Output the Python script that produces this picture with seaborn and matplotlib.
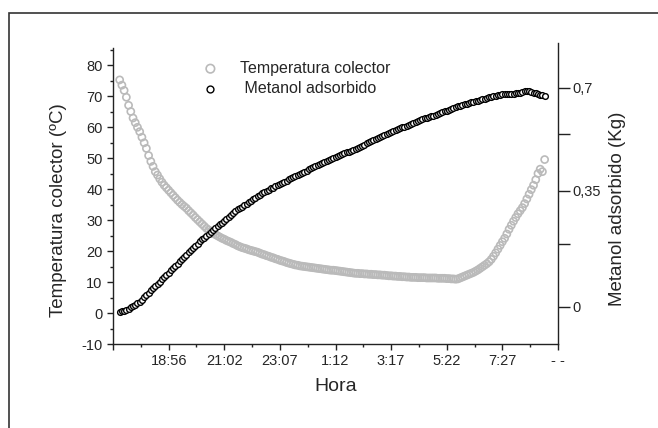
import matplotlib
matplotlib.use("Agg")

import numpy as np
import pandas as pd
import matplotlib.pyplot as plt
import seaborn as sns
from matplotlib.patches import Rectangle
from matplotlib.ticker import MultipleLocator

# ===============================
# Datos
# ===============================
# minutos desde 16:51, un registro cada 5 min
inicio_min = 15
paso_min = 5

temperatura = [
    75.2, 73.5, 71.8, 69.6, 67.0, 65.0, 62.9, 61.4, 59.9, 58.5,
    56.7, 54.9, 53.1, 50.8, 48.9, 47.3, 45.6, 44.5, 43.3, 42.2,
    41.2, 40.4, 39.6, 38.8, 38.0, 37.2, 36.4, 35.7, 35.0, 34.4,
    33.8, 33.0, 32.3, 31.6, 30.8, 30.1, 29.4, 28.7, 28.0, 27.3,
    26.8, 26.3, 25.8, 25.3, 24.9, 24.5, 24.1, 23.8, 23.4, 23.1,
    22.8, 22.4, 22.1, 21.7, 21.4, 21.1, 20.9, 20.7, 20.4, 20.2,
    20.0, 19.8, 19.6, 19.3, 19.0, 18.8, 18.5, 18.3, 18.0, 17.8,
    17.5, 17.3, 17.0, 16.8, 16.6, 16.3, 16.1, 15.9, 15.7, 15.5,
    15.4, 15.2, 15.1, 15.0, 14.9, 14.8, 14.7, 14.6, 14.5, 14.4,
    14.3, 14.2, 14.1, 14.0, 13.9, 13.8, 13.8, 13.7, 13.6, 13.5,
    13.4, 13.3, 13.2, 13.1, 13.0, 12.9, 12.8, 12.8, 12.7, 12.7,
    12.6, 12.6, 12.5, 12.5, 12.4, 12.4, 12.3, 12.3, 12.2, 12.2,
    12.1, 12.0, 12.0, 11.9, 11.9, 11.8, 11.8, 11.7, 11.7, 11.6,
    11.6, 11.5, 11.5, 11.5, 11.4, 11.4, 11.4, 11.4, 11.3, 11.3,
    11.3, 11.3, 11.3, 11.2, 11.2, 11.2, 11.2, 11.1, 11.1, 11.0,
    11.0, 10.9, 11.0, 11.3, 11.6, 11.9, 12.2, 12.5, 12.8, 13.1,
    13.5, 13.9, 14.4, 14.9, 15.4, 15.9, 16.5, 17.3, 18.3, 19.4,
    20.6, 21.8, 23.0, 24.1, 25.5, 27.0, 28.3, 29.6, 30.8, 32.0,
    33.0, 34.0, 35.3, 36.8, 38.3, 39.8, 41.2, 43.0, 45.0, 46.4,
    45.6, 49.5,
]

metanol = [
    -0.017, -0.015, -0.013, -0.010, -0.006, -0.002, 0.002, 0.006, 0.011, 0.016,
    0.023, 0.030, 0.037, 0.045, 0.052, 0.059, 0.066, 0.073, 0.080, 0.087,
    0.094, 0.102, 0.109, 0.116, 0.123, 0.130, 0.137, 0.145, 0.152, 0.159,
    0.166, 0.174, 0.181, 0.188, 0.195, 0.202, 0.209, 0.215, 0.221, 0.227,
    0.233, 0.239, 0.245, 0.251, 0.257, 0.263, 0.269, 0.275, 0.281, 0.287,
    0.293, 0.299, 0.305, 0.311, 0.316, 0.320, 0.324, 0.329, 0.334, 0.338,
    0.343, 0.348, 0.353, 0.358, 0.362, 0.367, 0.371, 0.374, 0.378, 0.381,
    0.385, 0.389, 0.392, 0.396, 0.399, 0.403, 0.407, 0.410, 0.414, 0.418,
    0.421, 0.425, 0.428, 0.432, 0.435, 0.439, 0.442, 0.446, 0.449, 0.453,
    0.456, 0.460, 0.463, 0.466, 0.469, 0.472, 0.475, 0.478, 0.481, 0.484,
    0.487, 0.490, 0.493, 0.496, 0.499, 0.502, 0.505, 0.508, 0.511, 0.515,
    0.518, 0.522, 0.526, 0.529, 0.533, 0.536, 0.540, 0.543, 0.546, 0.549,
    0.552, 0.555, 0.558, 0.561, 0.564, 0.567, 0.570, 0.573, 0.576, 0.579,
    0.582, 0.585, 0.588, 0.591, 0.594, 0.597, 0.599, 0.602, 0.604, 0.606,
    0.609, 0.611, 0.613, 0.616, 0.618, 0.621, 0.624, 0.627, 0.629, 0.632,
    0.635, 0.638, 0.641, 0.643, 0.645, 0.647, 0.649, 0.651, 0.653, 0.655,
    0.657, 0.659, 0.661, 0.663, 0.665, 0.667, 0.669, 0.671, 0.673, 0.675,
    0.677, 0.678, 0.679, 0.680, 0.680, 0.681, 0.681, 0.681, 0.682, 0.682,
    0.683, 0.686, 0.688, 0.689, 0.688, 0.686, 0.684, 0.682, 0.680, 0.678,
    0.676, 0.674,
]

hora_ticks = [0, 125, 250, 375, 500, 625, 750, 875, 1000]
hora_labels = ["", "18:56", "21:02", "23:07", "1:12", "3:17", "5:22", "7:27", "- -"]

# marcas del eje derecho, tal como aparecen en la figura original
metanol_tick_pos = [0.0, 0.200, 0.370, 0.552, 0.70]
metanol_tick_labels = ["0", "", "0,35", "", "0,7"]

minutos = inicio_min + paso_min * np.arange(len(temperatura))
df = pd.DataFrame({"minutos": minutos, "temperatura": temperatura, "metanol": metanol})

# ===============================
# Estilo
# ===============================
sns.set_style("ticks")
plt.rcParams["font.family"] = ["Liberation Sans", "DejaVu Sans"]
plt.rcParams["axes.edgecolor"] = "#222222"
plt.rcParams["axes.unicode_minus"] = False

fig = plt.figure(figsize=(6.58, 4.28), dpi=100)
ax = fig.add_axes([113 / 658, 1 - 344 / 428, 445 / 658, 301 / 428])
ax2 = ax.twinx()

sns.scatterplot(
    data=df, x="minutos", y="temperatura", ax=ax,
    marker="o", s=26, facecolor="none", edgecolor="#bababa",
    linewidth=1.2, label="Temperatura colector", legend=False,
)
sns.scatterplot(
    data=df, x="minutos", y="metanol", ax=ax2,
    marker="o", s=17, facecolor="white", edgecolor="black",
    linewidth=1.0, label=" Metanol adsorbido", legend=False,
)

# ===============================
# Ejes
# ===============================
ax.set_xlim(0, 1000)
ax.set_ylim(-10, 87.1)
ax2.set_ylim(-0.1192, 0.8429)

for s in ["top", "right"]:
    ax.spines[s].set_visible(False)
for s in ["top", "left", "bottom"]:
    ax2.spines[s].set_visible(False)
ax.spines["left"].set_bounds(-10, 85.5)
for sp in list(ax.spines.values()) + list(ax2.spines.values()):
    sp.set_linewidth(1.0)

ax.set_xticks(hora_ticks)
ax.set_xticklabels(hora_labels)
ax.xaxis.set_minor_locator(MultipleLocator(62.5))
ax.yaxis.set_major_locator(MultipleLocator(10))
ax.yaxis.set_minor_locator(MultipleLocator(5))
ax.tick_params(which="major", direction="out", length=4.5, width=1,
               labelsize=10.5, pad=3, color="#222222")
ax.tick_params(which="minor", direction="out", length=2.5, width=1, color="#222222")

ax2.set_yticks(metanol_tick_pos)
ax2.set_yticklabels(metanol_tick_labels)
ax2.tick_params(axis="y", direction="out", length=8.6, width=1,
                labelsize=10.5, pad=2, color="#222222")

ax.set_xlabel("Hora", fontsize=14)
ax.xaxis.set_label_coords(0.5, -0.112)
ax.set_ylabel("Temperatura colector (ºC)", fontsize=13.5)
ax.yaxis.set_label_coords(-0.104, 0.4435)
ax2.set_ylabel("Metanol adsorbido (Kg)", fontsize=13.5)
ax2.yaxis.set_label_coords(1.114, 0.45)

# ===============================
# Leyenda
# ===============================
h1, l1 = ax.get_legend_handles_labels()
h2, l2 = ax2.get_legend_handles_labels()
ax2.legend(
    h1 + h2, l1 + l2,
    loc="upper left", bbox_to_anchor=(196 / 658, 1 - 54.5 / 428),
    bbox_transform=fig.transFigure, frameon=False, fontsize=11.5,
    handlelength=1.0, handletextpad=1.35, borderaxespad=0,
    borderpad=0.4, labelspacing=0.33, scatterpoints=1, markerscale=1.2,
)

# marco exterior
fig.add_artist(Rectangle((9 / 658, -0.5), 2, 0.5 + 1 - 13 / 428,
                         transform=fig.transFigure, fill=False,
                         edgecolor="#333333", linewidth=1.2))

plt.savefig("out.png", dpi=100)
plt.close()
